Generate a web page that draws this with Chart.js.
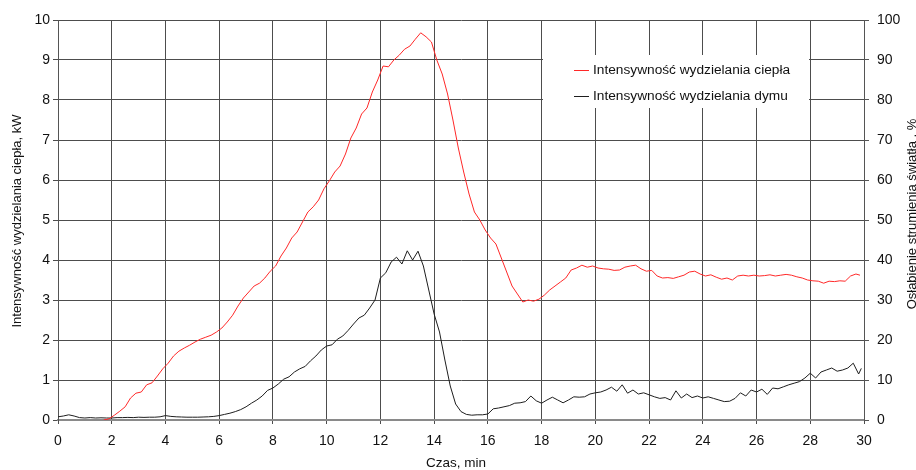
<!DOCTYPE html>
<html>
<head>
<meta charset="utf-8">
<script src="https://cdn.jsdelivr.net/npm/chart.js@4/dist/chart.umd.min.js"></script>
<style>
html,body{margin:0;padding:0;background:#fff;}
#wrap{width:916px;height:470px;}
</style>
</head>
<body>
<div id="wrap"><canvas id="c" width="916" height="470"></canvas></div>
<script>
// ---- data ----
const heatLabel = "Intensywność wydzielania ciepła";
const smokeLabel = "Intensywność wydzielania dymu";
const xTitle = "Czas, min";
const yLeftTitle = "Intensywność wydzielania ciepła, kW";
const yRightTitle = "Osłabienie strumienia światła , %";

const heatTime = [1.7,1.9,2.1,2.3,2.5,2.7,2.9,3.1,3.3,3.5,3.7,3.9,4.1,4.3,4.5,4.7,4.9,5.1,5.3,5.5,5.7,5.9,6.1,6.3,6.5,6.7,6.9,7.1,7.3,7.5,7.7,7.9,8.1,8.3,8.5,8.7,8.9,9.1,9.3,9.5,9.7,9.9,10.1,10.3,10.5,10.7,10.9,11.1,11.3,11.5,11.7,11.9,12.1,12.3,12.5,12.7,12.9,13.1,13.3,13.5,13.7,13.9,14.1,14.3,14.5,14.7,14.9,15.1,15.3,15.5,15.7,15.9,16.1,16.3,16.5,16.7,16.9,17.1,17.3,17.5,17.7,17.9,18.1,18.3,18.5,18.7,18.9,19.1,19.3,19.5,19.7,19.9,20.1,20.3,20.5,20.7,20.9,21.1,21.3,21.5,21.7,21.9,22.1,22.3,22.5,22.7,22.9,23.1,23.3,23.5,23.7,23.9,24.1,24.3,24.5,24.7,24.9,25.1,25.3,25.5,25.7,25.9,26.1,26.3,26.5,26.7,26.9,27.1,27.3,27.5,27.7,27.9,28.1,28.3,28.5,28.7,28.9,29.1,29.3,29.5,29.7,29.85];
const heatValues = [0.0,0.03,0.12,0.22,0.33,0.55,0.67,0.7,0.88,0.93,1.1,1.28,1.42,1.6,1.72,1.8,1.87,1.95,2.02,2.07,2.12,2.2,2.3,2.45,2.62,2.85,3.05,3.2,3.35,3.42,3.55,3.72,3.85,4.1,4.3,4.55,4.7,4.95,5.2,5.33,5.5,5.78,5.98,6.2,6.35,6.65,7.05,7.3,7.65,7.8,8.2,8.5,8.85,8.83,9.0,9.12,9.27,9.35,9.52,9.68,9.58,9.45,9.0,8.65,8.15,7.5,6.8,6.2,5.65,5.2,5.0,4.75,4.55,4.4,4.05,3.7,3.35,3.15,2.95,3.0,2.97,3.02,3.12,3.25,3.35,3.45,3.55,3.75,3.8,3.87,3.82,3.85,3.8,3.78,3.77,3.74,3.75,3.82,3.85,3.87,3.78,3.72,3.74,3.6,3.55,3.56,3.54,3.58,3.62,3.7,3.72,3.65,3.6,3.63,3.57,3.52,3.55,3.5,3.6,3.62,3.6,3.62,3.6,3.61,3.63,3.6,3.62,3.64,3.62,3.58,3.55,3.5,3.48,3.47,3.42,3.47,3.46,3.48,3.47,3.6,3.65,3.62];

const smokeTime = [0.0,0.2,0.4,0.6,0.8,1.0,1.2,1.4,1.6,1.8,2.0,2.2,2.4,2.6,2.8,3.0,3.2,3.4,3.6,3.8,4.0,4.2,4.4,4.6,4.8,5.0,5.2,5.4,5.6,5.8,6.0,6.2,6.4,6.6,6.8,7.0,7.2,7.4,7.6,7.8,8.0,8.2,8.4,8.6,8.8,9.0,9.2,9.4,9.6,9.8,10.0,10.2,10.4,10.6,10.8,11.0,11.2,11.4,11.6,11.8,12.0,12.2,12.4,12.6,12.8,13.0,13.2,13.4,13.6,13.8,14.0,14.2,14.4,14.6,14.8,15.0,15.2,15.4,15.6,15.8,16.0,16.2,16.4,16.6,16.8,17.0,17.2,17.4,17.6,17.8,18.0,18.2,18.4,18.6,18.8,19.0,19.2,19.4,19.6,19.8,20.0,20.2,20.4,20.6,20.8,21.0,21.2,21.4,21.6,21.8,22.0,22.2,22.4,22.6,22.8,23.0,23.2,23.4,23.6,23.8,24.0,24.2,24.4,24.6,24.8,25.0,25.2,25.4,25.6,25.8,26.0,26.2,26.4,26.6,26.8,27.0,27.2,27.4,27.6,27.8,28.0,28.2,28.4,28.6,28.8,29.0,29.2,29.4,29.6,29.8,29.9];
const smokeValues = [0.8,1.0,1.3,1.0,0.6,0.5,0.6,0.5,0.55,0.5,0.5,0.6,0.6,0.65,0.6,0.7,0.65,0.7,0.7,0.8,1.1,0.9,0.8,0.75,0.7,0.7,0.7,0.75,0.8,0.9,1.1,1.4,1.7,2.1,2.6,3.3,4.2,5.0,6.0,7.4,8.0,9.0,10.2,10.8,12.0,12.8,13.4,14.8,16.0,17.5,18.5,18.8,20.2,21.0,22.4,24.0,25.5,26.2,28.0,30.0,35.5,36.8,39.5,40.7,39.0,42.3,40.0,42.2,38.5,32.5,26.5,22.0,15.0,8.5,4.0,2.1,1.4,1.2,1.3,1.3,1.5,2.8,3.0,3.3,3.6,4.2,4.3,4.6,6.0,4.8,4.2,5.0,5.7,5.0,4.3,5.0,5.8,5.7,5.8,6.5,6.8,7.0,7.5,8.2,7.2,8.8,6.7,7.5,6.5,6.8,6.3,5.8,5.4,5.6,5.0,7.3,5.5,6.5,5.6,6.0,5.5,5.8,5.4,5.0,4.6,4.7,5.4,6.8,6.0,7.5,7.0,7.7,6.4,8.0,7.8,8.3,8.8,9.2,9.6,10.5,11.7,10.5,12.0,12.5,13.0,12.2,12.5,13.0,14.2,11.5,12.9];

const xTicks = [0,2,4,6,8,10,12,14,16,18,20,22,24,26,28,30];
const leftTicks = [0,1,2,3,4,5,6,7,8,9,10];
const rightTicks = [0,10,20,30,40,50,60,70,80,90,100];

// ---- chart ----
const FONT = "'Liberation Sans', Arial, sans-serif";
const heatColor = 'rgb(255,40,40)';
const smokeColor = 'rgb(30,30,30)';
const gridColor = '#4d4d4d';

const overlay = {
  id: 'overlay',
  afterDatasetsDraw(chart) {
    const ctx = chart.ctx;
    ctx.save();
    // legend box
    ctx.fillStyle = '#fff';
    ctx.fillRect(543, 55, 266, 53);
    ctx.font = '13.7px ' + FONT;
    ctx.textBaseline = 'middle';
    ctx.textAlign = 'left';
    const items = chart.data.datasets;
    const rows = [70, 96];
    items.forEach((ds, i) => {
      ctx.strokeStyle = ds.borderColor;
      ctx.lineWidth = 1;
      ctx.beginPath();
      ctx.moveTo(574, rows[i] + 0.5);
      ctx.lineTo(589, rows[i] + 0.5);
      ctx.stroke();
      ctx.fillStyle = '#111';
      ctx.fillText(ds.label, 593, rows[i]);
    });
    ctx.restore();
  },
  afterDraw(chart) {
    const ctx = chart.ctx;
    const a = chart.chartArea;
    ctx.save();
    ctx.fillStyle = '#111';
    ctx.font = '13.5px ' + FONT;
    ctx.textAlign = 'center';
    ctx.textBaseline = 'middle';
    ctx.fillText(xTitle, 456, 463);
    ctx.font = '13px ' + FONT;
    ctx.translate(17, (a.top + a.bottom) / 2 + 1);
    ctx.rotate(-Math.PI / 2);
    ctx.fillText(yLeftTitle, 0, 0);
    ctx.restore();
    ctx.save();
    ctx.fillStyle = '#111';
    ctx.font = '13px ' + FONT;
    ctx.textAlign = 'center';
    ctx.textBaseline = 'middle';
    ctx.translate(912, (a.top + a.bottom) / 2 - 6);
    ctx.rotate(-Math.PI / 2);
    ctx.fillText(yRightTitle, 0, 0);
    ctx.restore();
  }
};

new Chart(document.getElementById('c'), {
  type: 'line',
  data: {
    datasets: [
      {
        label: heatLabel,
        data: heatTime.map((t, i) => ({x: t, y: heatValues[i]})),
        borderColor: heatColor,
        borderWidth: 1,
        pointRadius: 0,
        tension: 0,
        yAxisID: 'y'
      },
      {
        label: smokeLabel,
        data: smokeTime.map((t, i) => ({x: t, y: smokeValues[i]})),
        borderColor: smokeColor,
        borderWidth: 1,
        pointRadius: 0,
        tension: 0,
        yAxisID: 'y2'
      }
    ]
  },
  options: {
    responsive: false,
    animation: false,
    events: [],
    layout: {padding: {top: 20, right: 0, bottom: 0, left: 0}},
    plugins: {legend: {display: false}, tooltip: {enabled: false}},
    scales: {
      x: {
        type: 'linear',
        min: 0, max: 30,
        afterBuildTicks: s => { s.ticks = xTicks.map(v => ({value: v})); },
        afterFit: s => { s.height = 50; },
        grid: {color: gridColor, lineWidth: 1, tickLength: 4, drawTicks: true},
        border: {color: '#8a8a8a', width: 2},
        ticks: {color: '#111', font: {family: FONT, size: 14}, padding: 9, maxRotation: 0, autoSkip: false}
      },
      y: {
        position: 'left',
        min: 0, max: 10,
        afterBuildTicks: s => { s.ticks = leftTicks.map(v => ({value: v})); },
        afterFit: s => { s.width = 58; },
        grid: {color: gridColor, lineWidth: 1, tickLength: 5},
        border: {color: '#555', width: 1},
        ticks: {color: '#111', font: {family: FONT, size: 14}, padding: 3}
      },
      y2: {
        position: 'right',
        min: 0, max: 100,
        afterBuildTicks: s => { s.ticks = rightTicks.map(v => ({value: v})); },
        afterFit: s => { s.width = 52; },
        grid: {drawOnChartArea: false, color: '#555', tickLength: 5},
        border: {color: '#555', width: 1},
        ticks: {color: '#111', font: {family: FONT, size: 14}, padding: 8}
      }
    }
  },
  plugins: [overlay]
});
</script>
</body>
</html>
